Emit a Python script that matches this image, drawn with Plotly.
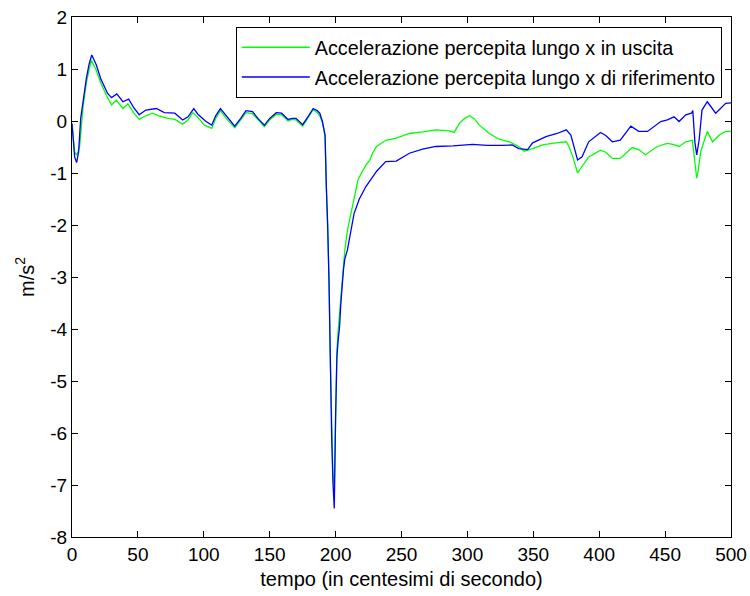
import plotly.graph_objects as go

# ---- data ----
t_out = [0, 1, 2, 3.3, 4.5, 5.8, 7, 8.5, 11, 13, 14.6, 18, 22, 26, 30, 33.6, 38.6, 42.4,
         47, 51, 56, 61, 66, 72.7, 78, 84, 88, 91.7, 95, 100.5, 106, 109, 112.6, 117,
         123.5, 128, 132, 137, 141, 146, 150, 155, 159, 164, 167, 170, 175, 179, 183,
         186, 188, 190, 192, 193, 194, 195, 196, 197, 198, 199, 200, 201, 202, 203, 204,
         205, 206, 207, 209, 212, 214, 217, 220, 223, 226, 228, 231, 235, 238, 246, 256,
         266, 276, 286, 290, 294, 298, 301.5, 305, 309, 316.7, 324, 332, 339, 343, 349.5,
         357, 367, 375, 377, 380, 383.6, 387, 392, 401, 405, 410, 416, 425, 430, 435, 444,
         451.7, 456, 460.6, 465.7, 470.7, 472.5, 474, 475.2, 477, 482, 486, 491, 496, 500]
acc_out = [-0.05, -0.35, -0.6, -0.65, -0.6, -0.49, -0.1, 0.3, 0.75, 1.0, 1.17, 1.0, 0.72,
           0.5, 0.31, 0.4, 0.24, 0.33, 0.15, 0.03, 0.1, 0.15, 0.1, 0.05, 0.03, -0.06, 0.02,
           0.16, 0.08, -0.08, -0.14, 0.05, 0.2, 0.05, -0.13, 0.02, 0.16, 0.14, 0.02, -0.11,
           0.02, 0.13, 0.12, 0.0, 0.03, 0.02, -0.1, 0.06, 0.22, 0.16, 0.1, -0.03, -0.3,
           -1.25, -2.0, -3.0, -4.6, -6.0, -6.8, -7.05, -5.5, -4.4, -4.0, -3.7, -3.44, -3.1,
           -2.8, -2.48, -2.1, -1.71, -1.45, -1.13, -0.98, -0.85, -0.75, -0.62, -0.49, -0.42,
           -0.37, -0.33, -0.24, -0.21, -0.17, -0.19, -0.22, -0.04, 0.05, 0.1, 0.05, -0.08,
           -0.24, -0.35, -0.4, -0.49, -0.58, -0.53, -0.46, -0.42, -0.4, -0.49, -0.69, -1.0,
           -0.88, -0.69, -0.56, -0.6, -0.72, -0.72, -0.51, -0.55, -0.65, -0.49, -0.43, -0.45,
           -0.49, -0.4, -0.37, -0.75, -1.1, -0.94, -0.59, -0.2, -0.4, -0.27, -0.2, -0.2]

t_ref = [0, 1, 2, 3.5, 5, 6.6, 8.3, 10.9, 13, 15, 18.4, 22, 27, 30, 34, 38.6, 43, 47, 51,
         56, 64, 70, 78, 84, 88, 92.4, 95.5, 101.7, 106, 109, 112.6, 117, 123.5, 128, 132,
         137, 141, 146, 150, 155, 159, 164, 167, 170, 175, 179, 183, 186, 188, 190, 192,
         193, 194, 195, 196, 197, 198, 199, 200, 201, 202, 203, 204, 205, 206, 207, 209,
         214, 218, 223, 231, 238, 246, 256, 266, 276, 289, 304, 315, 326, 334, 339, 345.7,
         349.5, 359.6, 368, 375, 378.5, 381, 383.6, 387, 392, 401, 405, 410, 416, 424, 430,
         436.6, 446.7, 451.7, 456.8, 460.6, 465.7, 470, 471, 472.7, 474, 475.8, 478, 482,
         484.6, 488.4, 492, 496, 500]
acc_ref = [-0.05, -0.4, -0.69, -0.8, -0.6, 0.05, 0.37, 0.82, 1.1, 1.27, 1.08, 0.8, 0.53,
           0.45, 0.52, 0.37, 0.42, 0.25, 0.12, 0.21, 0.24, 0.16, 0.15, 0.02, 0.08, 0.24,
           0.13, -0.01, -0.08, 0.1, 0.24, 0.1, -0.1, 0.05, 0.2, 0.18, 0.05, -0.08, 0.05,
           0.16, 0.15, 0.03, 0.05, 0.05, -0.07, 0.08, 0.24, 0.2, 0.15, -0.01, -0.27, -1.3,
           -2.0, -3.1, -4.85, -6.07, -6.96, -7.45, -5.69, -4.53, -4.2, -3.96, -3.5, -3.1,
           -2.85, -2.65, -2.48, -1.78, -1.5, -1.26, -0.97, -0.78, -0.77, -0.62, -0.54, -0.49,
           -0.48, -0.45, -0.47, -0.47, -0.46, -0.53, -0.55, -0.42, -0.3, -0.24, -0.17, -0.27,
           -0.49, -0.75, -0.69, -0.4, -0.22, -0.28, -0.4, -0.37, -0.1, -0.2, -0.2, -0.01,
           0.02, 0.08, -0.01, 0.12, 0.15, 0.2, -0.43, -0.65, -0.37, 0.21, 0.37, 0.28, 0.15,
           0.24, 0.34, 0.35]

name_out = "Accelerazione percepita lungo x in uscita"
name_ref = "Accelerazione percepita lungo x di riferimento"

x_ticks = [0, 50, 100, 150, 200, 250, 300, 350, 400, 450, 500]
y_ticks = [2, 1, 0, -1, -2, -3, -4, -5, -6, -7, -8]
y_tick_labels = ["2", "1", "0", "-1", "-2", "-3", "-4", "-5", "-6", "-7", "-8"]

FONT = "Liberation Sans, Arial, sans-serif"
NARROW = "Liberation Sans Narrow, Arial Narrow, Liberation Sans, sans-serif"

fig = go.Figure()
fig.add_trace(go.Scatter(x=t_out, y=acc_out, mode="lines", name=name_out,
                         legendgroup="a", line=dict(color="#00ff00", width=1.3)))
fig.add_trace(go.Scatter(x=t_ref, y=acc_ref, mode="lines", name=name_ref,
                         legendgroup="b", line=dict(color="#0000ff", width=1.3)))

axis_common = dict(showgrid=False, zeroline=False, showline=True, linecolor="black",
                   linewidth=1, mirror="ticks", ticks="inside", ticklen=6,
                   tickcolor="black", automargin=False,
                   tickfont=dict(size=19, color="black", family=NARROW))

fig.update_layout(
    width=750, height=596,
    margin=dict(l=72, r=19, t=17, b=59),
    paper_bgcolor="white", plot_bgcolor="white",
    font=dict(family=FONT, size=19, color="black"),
    xaxis=dict(range=[0, 500], tickvals=x_ticks,
               title=dict(text="tempo (in centesimi di secondo)", standoff=8,
                          font=dict(size=20, family=FONT)),
               **axis_common),
    yaxis=dict(range=[-8, 2], tickvals=y_ticks, ticktext=y_tick_labels,
               title=dict(text="m/s<sup>2</sup>", standoff=10,
                          font=dict(size=20, family=FONT)),
               **axis_common),
    legend=dict(x=0.986, y=0.981, xanchor="right", yanchor="top",
                bgcolor="white", bordercolor="black", borderwidth=1,
                font=dict(size=19.8, family=FONT, color="black"),
                tracegroupgap=1, itemwidth=68),
    showlegend=True,
)

fig.write_html("out.html")
